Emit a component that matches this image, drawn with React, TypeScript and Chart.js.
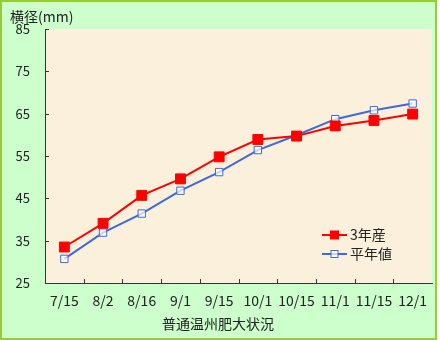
import React, { useEffect, useRef } from "react";
import { Chart, registerables } from "chart.js";

Chart.register(...registerables);

const categories = ["7/15", "8/2", "8/16", "9/1", "9/15", "10/1", "10/15", "11/1", "11/15", "12/1"];
const series3 = [33.5, 39.1, 45.7, 49.6, 54.8, 58.9, 59.7, 62.1, 63.4, 64.9];
const seriesAvg = [30.7, 36.9, 41.4, 46.8, 51.2, 56.4, 59.9, 63.7, 65.8, 67.4];
const seriesNames = ["3年産", "平年値"];
const yTicks = [25, 35, 45, 55, 65, 75, 85];
const yTitle = "横径(mm)";
const xTitle = "普通温州肥大状況";

const FONT = "'Noto Sans CJK JP', 'Noto Sans', sans-serif";
const RED = "#FF0000";
const BLUE = "#4169D6";

const decorPlugin = {
  id: "decor",
  beforeDraw(chart: any) {
    const { ctx, chartArea } = chart;
    ctx.save();
    ctx.fillStyle = "#FFFFFF";
    ctx.fillRect(0, 0, 440, 340);
    ctx.fillStyle = "#CCFFCC";
    ctx.fillRect(0, 0, 437, 340);
    ctx.strokeStyle = "#99CC33";
    ctx.lineWidth = 2;
    ctx.strokeRect(1, 1, 435, 338);
    ctx.fillStyle = "#FAF0DC";
    ctx.fillRect(chartArea.left, chartArea.top, chartArea.right - chartArea.left, chartArea.bottom - chartArea.top);
    ctx.restore();
  },
  afterDraw(chart: any) {
    const { ctx, chartArea, scales } = chart;
    const x = scales.x;
    const y = scales.y;
    ctx.save();
    ctx.strokeStyle = "#333333";
    ctx.lineWidth = 1;
    ctx.beginPath();
    yTicks.forEach((v) => {
      const py = Math.round(y.getPixelForValue(v)) + 0.5;
      ctx.moveTo(chartArea.left, py);
      ctx.lineTo(chartArea.left + 4, py);
    });
    for (let i = 0; i < categories.length - 1; i++) {
      const px = Math.round((x.getPixelForTick(i) + x.getPixelForTick(i + 1)) / 2) + 0.5;
      ctx.moveTo(px, chartArea.bottom);
      ctx.lineTo(px, chartArea.bottom - 4);
    }
    ctx.stroke();

    // titles
    ctx.fillStyle = "#222222";
    ctx.font = `14px ${FONT}`;
    ctx.textBaseline = "middle";
    ctx.textAlign = "left";
    ctx.fillText(yTitle, 10, 17);
    ctx.textAlign = "center";
    ctx.fillText(xTitle, 218, 324);

    // legend
    const ds = chart.data.datasets;
    const rows = [235, 254];
    ds.forEach((d: any, i: number) => {
      const ry = rows[i];
      ctx.strokeStyle = d.borderColor;
      ctx.lineWidth = 2;
      ctx.beginPath();
      ctx.moveTo(322, ry);
      ctx.lineTo(347, ry);
      ctx.stroke();
      const s = i === 0 ? 8 : 7;
      ctx.fillStyle = d.pointBackgroundColor;
      ctx.fillRect(334.5 - s / 2, ry - s / 2, s, s);
      ctx.strokeStyle = d.pointBorderColor;
      ctx.lineWidth = 1;
      ctx.strokeRect(334.5 - s / 2, ry - s / 2, s, s);
      ctx.fillStyle = "#222222";
      ctx.font = `14px ${FONT}`;
      ctx.textAlign = "left";
      ctx.textBaseline = "middle";
      ctx.fillText(d.label, 350, ry);
    });
    ctx.restore();
  },
};

export default function App() {
  const ref = useRef<HTMLCanvasElement | null>(null);
  useEffect(() => {
    document.body.style.margin = "0";
    const canvas = ref.current;
    if (!canvas) return;
    const chart = new Chart(canvas, {
      type: "line",
      data: {
        labels: categories,
        datasets: [
          {
            label: seriesNames[0],
            data: series3,
            borderColor: RED,
            backgroundColor: RED,
            borderWidth: 2,
            pointStyle: "rect",
            pointRadius: 7,
            pointBackgroundColor: RED,
            pointBorderColor: RED,
            pointBorderWidth: 1,
            tension: 0,
          },
          {
            label: seriesNames[1],
            data: seriesAvg,
            borderColor: BLUE,
            backgroundColor: "#FFFFFF",
            borderWidth: 2,
            pointStyle: "rect",
            pointRadius: 5.2,
            pointBackgroundColor: "rgba(255,255,255,0.7)",
            pointBorderColor: BLUE,
            pointBorderWidth: 1,
            tension: 0,
          },
        ],
      },
      options: {
        responsive: false,
        animation: false,
        devicePixelRatio: 1,
        layout: { padding: { left: 0, top: 29, right: 6.5, bottom: 0 } },
        plugins: { legend: { display: false }, tooltip: { enabled: false } },
        scales: {
          x: {
            type: "category",
            offset: true,
            grid: { display: false, drawTicks: false },
            border: { display: true, color: "#333333", width: 1 },
            ticks: { color: "#222222", font: { family: FONT, size: 14 }, padding: 9, maxRotation: 0, autoSkip: false },
            afterFit: (s: any) => { s.height = 57; },
          },
          y: {
            min: 25,
            max: 85,
            grid: { display: false, drawTicks: false },
            border: { display: true, color: "#333333", width: 1 },
            ticks: { stepSize: 10, color: "#222222", font: { family: FONT, size: 13 }, padding: 15 },
            afterFit: (s: any) => { s.width = 45; },
          },
        },
      },
      plugins: [decorPlugin],
    });
    return () => chart.destroy();
  }, []);
  return <canvas ref={ref} width={440} height={340} style={{ display: "block", width: 440, height: 340 }} />;
}
